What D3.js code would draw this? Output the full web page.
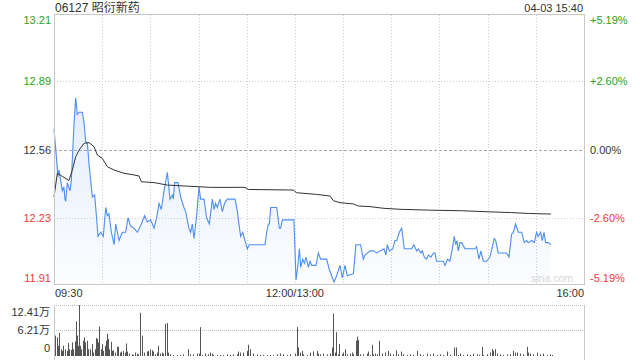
<!DOCTYPE html>
<html>
<head>
<meta charset="utf-8">
<script src="https://cdn.jsdelivr.net/npm/d3@7"></script>
<style>
  html, body { margin: 0; padding: 0; background: #fff; }
  svg { display: block; font-family: "Liberation Sans", Arial, "Noto Sans CJK SC", sans-serif; }
</style>
</head>
<body>
<svg id="chart" width="640" height="360"></svg>
<script>
// trading minutes since 09:30 (lunch break removed), 330 = 16:00
const priceTimes = [0,2.5,3.1,5.2,6.2,6.8,7.3,8.3,10,10.8,12.5,13.5,14.5,15.6,17.6,18.7,19.7,20.8,21.8,23.9,25.3,26.4,27.4,29.1,30.7,32.2,33.2,34.2,35.7,37.4,38.4,40.5,42.5,44.6,46.1,47.7,49.8,51.9,54.4,56.4,58.1,60.2,62.3,63.9,65.4,66.8,68.5,70.6,72.2,73.7,74.3,75.1,77.2,78.9,80.9,82.0,84.0,85.1,86.1,87.2,88.8,90.3,91.3,93.4,95.0,96.7,98.6,99.6,100.6,101.7,103.3,104.8,106.2,107.9,112.7,114.2,114.8,116.2,117.5,118.9,120.4,121.6,131.4,132.4,133.5,134.1,134.9,138.7,140.3,141.1,142.2,149.4,150.7,151.7,152.8,153.6,154.8,155.9,156.9,158.4,159.4,160.4,163.1,164.6,166.0,169.8,171.4,172.9,174.3,176.0,178.1,179.5,181.2,182.6,186.4,188.0,190.9,192.6,193.6,196.8,198.8,200.9,203.0,205.5,206.7,207.5,208.8,210.9,212.3,213.4,215.0,216.5,218.1,222.7,224.1,225.8,226.8,228.5,229.3,230.6,232.0,233.1,234.7,236.2,237.2,238.2,242.4,243.4,245.1,246.5,248.0,249.2,250.1,250.9,251.7,252.8,253.8,255.9,262.1,263.1,264.6,265.8,267.3,269.4,271.4,272.9,274.1,275.0,276.6,281.8,283.3,284.9,286.0,287.4,289.1,291.2,292.8,294.3,295.3,297.4,299.0,300.5,301.5,303.0,304.0,305.1,306.1,307.8,309.4];
const prices = [12.66,12.43,12.46,12.36,12.38,12.32,12.31,12.40,12.36,12.41,12.69,12.81,12.73,12.74,12.74,12.69,12.60,12.59,12.49,12.33,12.34,12.24,12.14,12.16,12.14,12.28,12.24,12.25,12.16,12.10,12.20,12.12,12.16,12.16,12.23,12.19,12.18,12.16,12.20,12.24,12.21,12.22,12.18,12.23,12.30,12.27,12.36,12.45,12.32,12.34,12.32,12.40,12.40,12.33,12.28,12.26,12.18,12.16,12.20,12.13,12.24,12.38,12.32,12.32,12.23,12.20,12.32,12.27,12.30,12.28,12.32,12.26,12.30,12.32,12.32,12.26,12.22,12.14,12.16,12.12,12.08,12.10,12.10,12.16,12.20,12.20,12.28,12.28,12.18,12.18,12.22,12.22,11.93,11.99,12.08,11.99,12.03,12.01,12.04,11.99,12.02,12.00,12.00,12.06,12.03,12.03,11.98,11.95,11.92,11.95,12.00,11.94,12.00,11.95,11.96,12.10,12.10,12.03,12.05,12.07,12.07,12.06,12.07,12.08,12.05,12.10,12.07,12.08,12.12,12.12,12.16,12.18,12.08,12.08,12.10,12.07,12.08,12.06,12.07,12.04,12.03,12.05,12.04,12.06,12.06,12.02,12.02,12.00,12.03,12.02,12.08,12.14,12.10,12.12,12.07,12.11,12.11,12.08,12.08,12.09,12.03,12.07,12.02,12.02,12.04,12.09,12.13,12.12,12.06,12.06,12.04,12.15,12.16,12.20,12.16,12.16,12.11,12.12,12.11,12.12,12.11,12.16,12.14,12.16,12.12,12.16,12.11,12.11,12.10];

const avgTimes = [0,2.1,5.2,9.3,11.4,13.5,15.6,18.7,21.8,24.9,27.0,30.1,33.2,37.4,43.6,49.8,52.9,54.4,62.3,70.6,83.0,97.5,112.1,118.9,121.0,149.0,151.1,163.6,171.9,173.9,178.1,186.4,189.5,196.8,205.1,215.4,233.1,253.8,270.4,284.9,295.3,309.4];
const avgPrices = [12.332,12.445,12.43,12.41,12.46,12.525,12.557,12.59,12.593,12.574,12.533,12.517,12.477,12.461,12.445,12.437,12.432,12.404,12.40,12.388,12.383,12.377,12.377,12.377,12.367,12.364,12.351,12.343,12.335,12.313,12.303,12.297,12.287,12.284,12.276,12.271,12.267,12.264,12.259,12.255,12.251,12.248];

// volume, in 万 shares
const volTimes = [0.8,1.7,2.7,3.3,4.1,5.0,5.8,7.0,7.9,8.7,9.5,10.4,11.2,12.0,12.9,13.5,14.1,15.0,15.8,16.4,17.0,17.8,18.7,19.5,20.3,21.4,22.4,23.4,24.5,25.3,25.9,26.6,27.4,28.2,29.0,29.9,30.7,31.5,32.4,33.0,33.6,34.4,35.3,36.1,36.9,38.0,39.0,40.0,41.1,41.9,43.2,44.0,44.8,45.6,46.9,48.3,49.4,50.4,51.5,52.5,53.7,55.0,56.0,57.7,58.7,59.8,60.8,61.8,62.9,63.9,65.0,66.0,67.0,68.1,68.9,70.1,71.2,72.2,74.3,76.4,78.4,80.5,83.6,84.7,86.7,88.8,90.0,90.9,91.9,94.0,96.1,97.1,98.1,99.2,101.3,103.3,105.4,107.5,109.6,111.6,113.7,114.7,115.8,117.9,119.9,121.0,122.0,124.1,126.2,128.2,130.3,132.4,134.5,136.5,138.6,140.7,142.8,144.8,146.9,150.0,151.1,152.1,153.1,154.2,155.2,157.3,159.3,161.4,163.5,164.5,165.6,167.7,169.8,171.8,172.9,173.5,174.7,175.6,177.0,177.6,179.1,180.1,181.2,182.2,184.3,185.3,186.4,187.8,188.4,189.5,190.5,192.6,194.7,195.7,196.7,197.8,198.8,199.8,200.9,202.5,204.0,206.1,208.1,209.2,211.3,212.9,214.4,215.8,217.5,219.6,221.6,223.7,226.2,227.9,229.9,232.0,234.1,236.2,238.2,240.3,242.4,244.5,246.5,249.2,250.3,251.7,252.8,254.8,256.9,259.0,261.1,263.1,264.8,266.2,267.3,269.4,271.4,272.5,273.5,274.5,275.6,277.7,279.7,281.8,283.9,285.9,287.0,288.0,290.1,292.2,294.3,295.3,296.4,298.4,300.5,302.6,304.6,306.7,308.8,309.8];
const volValues = [4.96,4.55,2.48,5.63,1.65,1.24,2.48,1.65,1.24,3.14,1.65,1.49,3.31,1.65,3.56,8.44,4.96,2.48,12.41,2.48,1.65,3.72,4.55,3.31,3.72,1.65,1.65,2.90,0.83,1.65,4.38,4.14,3.31,7.20,1.65,2.90,1.24,2.48,3.72,5.38,4.14,1.65,3.47,1.24,1.41,0.83,2.23,2.23,0.83,1.08,1.24,0.83,3.06,1.08,0.58,0.41,0.25,0.83,0.58,0.41,10.51,4.96,0.83,1.08,1.24,1.65,1.41,1.08,0.41,0.83,2.48,0.58,0.83,0.58,7.86,8.02,0.83,0.41,0.25,0.25,0.25,0.41,1.65,0.41,0.41,0.58,0.58,7.03,0.25,0.58,0.41,0.83,0.58,0.25,0.25,0.25,0.25,0.41,0.25,0.41,0.41,1.08,0.83,0.83,1.24,2.73,1.65,0.58,0.41,0.25,0.25,0.25,0.25,0.25,0.41,0.58,0.41,0.25,0.41,0.58,7.03,2.07,0.83,1.24,0.41,0.25,0.83,1.08,1.24,0.58,0.41,0.58,0.41,0.58,2.07,10.34,0.83,5.79,0.41,2.90,0.41,0.83,1.65,0.41,0.58,0.83,0.41,3.72,4.72,3.89,0.41,0.41,0.58,1.08,0.25,2.73,0.41,0.58,0.41,3.72,0.58,0.83,1.24,0.58,0.41,1.41,0.41,1.08,0.41,0.25,0.41,0.25,1.24,0.41,0.25,0.58,0.41,0.58,0.25,0.41,0.25,1.08,0.25,2.07,2.07,0.25,0.58,0.25,0.41,0.25,0.58,0.41,0.25,2.23,0.25,0.41,0.83,1.65,1.24,1.65,0.58,0.41,0.25,0.41,0.41,1.24,0.83,0.83,0.58,0.41,2.23,0.83,0.58,0.41,0.83,0.41,0.58,0.25,0.41,0.25];

const priceTicks = [13.21, 12.89, 12.56, 12.23, 11.91];
const pctLabels = ["+5.19%", "+2.60%", "0.00%", "-2.60%", "-5.19%"];
const volTicks = [12.41, 6.21, 0];
const volLabels = ["12.41万", "6.21万", "0"];
const timeTicks = [0, 150, 330];
const timeLabels = ["09:30", "12:00/13:00", "16:00"];
const prevClose = 12.56;

const svg = d3.select("#chart");
const plotL = 54, plotR = 584, plotT = 15, plotB = 284;
const volT = 305, volB = 356;

const x = d3.scaleLinear().domain([0, 330]).range([plotL, plotR]);
const y = d3.scaleLinear().domain([11.91, 13.21]).range([plotB, plotT]);
const yv = d3.scaleLinear().domain([0, 12.41]).range([volB, volT]);

const green = "#25a325", red = "#f03a3a", textCol = "#333";
const colorFor = v => v > prevClose ? green : (v < prevClose ? red : textCol);

// header
svg.append("text").attr("x", 55).attr("y", 12).attr("font-size", 12).attr("fill", textCol)
  .text("06127 昭衍新药");
svg.append("text").attr("x", 583).attr("y", 12).attr("font-size", 11).attr("fill", textCol)
  .attr("text-anchor", "end").text("04-03 15:40");

// vertical grid every 30 min
svg.append("g").selectAll("line").data(d3.range(30, 330, 30)).join("line")
  .attr("x1", d => Math.round(x(d)) + 0.5).attr("x2", d => Math.round(x(d)) + 0.5)
  .attr("y1", plotT).attr("y2", plotB)
  .attr("stroke", "#ccc").attr("stroke-dasharray", "1,2");

// horizontal grid
svg.append("g").selectAll("line").data(priceTicks.slice(1, 4)).join("line")
  .attr("x1", plotL).attr("x2", plotR)
  .attr("y1", d => Math.round(y(d)) + 0.5).attr("y2", d => Math.round(y(d)) + 0.5)
  .attr("stroke", d => d === prevClose ? "#aaa" : "#ccc")
  .attr("stroke-dasharray", d => d === prevClose ? "3,2" : "1,2");

// price area
const grad = svg.append("defs").append("linearGradient")
  .attr("id", "fillGrad").attr("gradientUnits", "userSpaceOnUse")
  .attr("x1", 0).attr("y1", plotT).attr("x2", 0).attr("y2", plotB);
grad.append("stop").attr("offset", "0%").attr("stop-color", "#4d8ef0").attr("stop-opacity", 0.22);
grad.append("stop").attr("offset", "100%").attr("stop-color", "#4d8ef0").attr("stop-opacity", 0.02);

const pts = priceTimes.map((t, i) => [t, prices[i]]);
svg.append("path").datum(pts)
  .attr("fill", "url(#fillGrad)")
  .attr("d", d3.area().x(d => x(d[0])).y0(plotB).y1(d => y(d[1])));
svg.append("path").datum(pts)
  .attr("fill", "none").attr("stroke", "#4d8ef0").attr("stroke-width", 1.1)
  .attr("d", d3.line().x(d => x(d[0])).y(d => y(d[1])));

// average line
const avgPts = avgTimes.map((t, i) => [t, avgPrices[i]]);
svg.append("path").datum(avgPts)
  .attr("fill", "none").attr("stroke", "#333").attr("stroke-width", 1)
  .attr("d", d3.line().x(d => x(d[0])).y(d => y(d[1])));

// watermark
svg.append("text").attr("x", 573).attr("y", 282).attr("font-size", 10.5)
  .attr("fill", "#d8d8d8").attr("text-anchor", "end").text("sina.com");

// frame
svg.append("rect").attr("x", plotL + 0.5).attr("y", plotT - 0.5)
  .attr("width", plotR - plotL).attr("height", plotB - plotT + 1)
  .attr("fill", "none").attr("stroke", "#c8c8c8");

// price labels
svg.append("g").selectAll("text").data(priceTicks).join("text")
  .attr("x", 51).attr("text-anchor", "end").attr("font-size", 11)
  .attr("y", (d, i) => y(d) + 4 + (i === 0 ? 5 : i === 4 ? -6 : 0))
  .attr("fill", d => colorFor(d)).text(d => d.toFixed(2));
svg.append("g").selectAll("text").data(priceTicks).join("text")
  .attr("x", 590).attr("font-size", 11)
  .attr("y", (d, i) => y(d) + 4 + (i === 0 ? 5 : i === 4 ? -6 : 0))
  .attr("fill", d => colorFor(d)).text((d, i) => pctLabels[i]);

// time labels
svg.append("g").selectAll("text").data(timeTicks).join("text")
  .attr("x", d => x(d) + (d === 0 ? 1 : 0)).attr("y", 297).attr("font-size", 11).attr("fill", textCol)
  .attr("text-anchor", (d, i) => i === 0 ? "start" : i === 1 ? "middle" : "end")
  .text((d, i) => timeLabels[i]);

// volume panel
svg.append("g").selectAll("line").data(volTicks.slice(0, 2)).join("line")
  .attr("x1", plotL).attr("x2", plotR)
  .attr("y1", d => Math.round(yv(d)) + 0.5).attr("y2", d => Math.round(yv(d)) + 0.5)
  .attr("stroke", "#bbb").attr("stroke-dasharray", "1,1");
svg.append("g").selectAll("line").data([plotL, plotR]).join("line")
  .attr("x1", d => d + 0.5).attr("x2", d => d + 0.5)
  .attr("y1", volT).attr("y2", 360).attr("stroke", "#c8c8c8");

svg.append("g").selectAll("rect").data(volTimes).join("rect")
  .attr("x", d => Math.round(x(d)))
  .attr("width", 1)
  .attr("y", (d, i) => yv(volValues[i]))
  .attr("height", (d, i) => yv(0) - yv(volValues[i]))
  .attr("fill", "#555");

svg.append("g").selectAll("text").data(volTicks).join("text")
  .attr("x", 50).attr("text-anchor", "end").attr("font-size", 11).attr("fill", textCol)
  .attr("y", (d, i) => yv(d) + 4 + (i === 0 ? 7 : i === 2 ? -8 : 0))
  .text((d, i) => volLabels[i]);
</script>
</body>
</html>
